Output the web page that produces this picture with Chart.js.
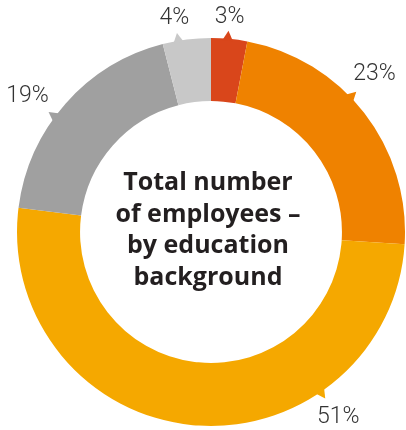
<!DOCTYPE html>
<html>
<head>
<meta charset="utf-8">
<script src="https://cdn.jsdelivr.net/npm/chart.js@4"></script>
<style>
  html, body { margin: 0; padding: 0; background: #fff; }
  #wrap { width: 406px; height: 430px; }
</style>
</head>
<body>
<div id="wrap"><canvas id="chart-education"></canvas></div>
<script>
// share of employees per education group, clockwise from 12 o'clock
const groups = ["Group A", "Group B", "Group C", "Group D", "Group E"];
const shares = [3, 23, 51, 19, 4];
const shareLabels = ["3%", "23%", "51%", "19%", "4%"];
const titleLines = ["Total number", "of employees \u2013", "by education", "background"];

const sliceColors = ["#d9461b", "#ef8200", "#f5a800", "#a0a0a0", "#c8c8c8"];

// where along each slice the callout sits (0 = slice start, 1 = slice end)
const calloutAt = [0.46, 0.425, 0.283, 0.428, 0.326];

const calloutPlugin = {
  id: "callouts",
  afterDatasetsDraw(chart) {
    const ctx = chart.ctx;
    const arcs = chart.getDatasetMeta(0).data;
    ctx.save();
    ctx.font = "300 23px Roboto, 'Liberation Sans', sans-serif";
    ctx.textAlign = "center";
    ctx.textBaseline = "middle";
    arcs.forEach((arc, i) => {
      const p = arc.getProps(["x", "y", "startAngle", "endAngle", "outerRadius"], true);
      const a = p.startAngle + (p.endAngle - p.startAngle) * calloutAt[i];
      const cos = Math.cos(a), sin = Math.sin(a);
      const r = p.outerRadius;

      // little pointer sticking out of the ring
      const half = 0.028;
      ctx.fillStyle = sliceColors[i];
      ctx.beginPath();
      ctx.moveTo(p.x + Math.cos(a - half) * (r - 2), p.y + Math.sin(a - half) * (r - 2));
      ctx.lineTo(p.x + cos * (r + 8), p.y + sin * (r + 8));
      ctx.lineTo(p.x + Math.cos(a + half) * (r - 2), p.y + Math.sin(a + half) * (r - 2));
      ctx.closePath();
      ctx.fill();

      // percentage text pushed out so its box clears the ring
      const text = shareLabels[i];
      const hw = ctx.measureText(text).width / 2;
      const hh = 8.5;
      const d = r + 12 + hw * Math.abs(cos) + hh * Math.abs(sin);
      ctx.fillStyle = "#333333";
      ctx.fillText(text, p.x + cos * d, p.y + sin * d);
    });
    ctx.restore();
  }
};

const centerTextPlugin = {
  id: "centerText",
  afterDraw(chart) {
    const ctx = chart.ctx;
    const arc = chart.getDatasetMeta(0).data[0];
    const cx = arc.x - 3, cy = arc.y;
    const lh = 31.7;
    ctx.save();
    ctx.font = "700 25px 'Open Sans', 'Liberation Sans', sans-serif";
    ctx.fillStyle = "#231f20";
    ctx.textAlign = "center";
    ctx.textBaseline = "alphabetic";
    titleLines.forEach((line, i) => {
      ctx.fillText(line, cx, cy + 5.5 + (i - 1.5) * lh);
    });
    ctx.restore();
  }
};

new Chart(document.getElementById("chart-education"), {
  type: "doughnut",
  data: {
    labels: groups,
    datasets: [
      {
        data: shares,
        backgroundColor: sliceColors,
        borderWidth: 0,
        hoverOffset: 0,
      },
    ],
  },
  options: {
    responsive: true,
    maintainAspectRatio: false,
    animation: false,
    cutout: "67.5%",
    layout: { padding: { left: 17, right: 1, top: 38, bottom: 4 } },
    plugins: {
      legend: { display: false },
      tooltip: { enabled: false },
      title: { display: false },
    },
  },
  plugins: [calloutPlugin, centerTextPlugin],
});
</script>
</body>
</html>
